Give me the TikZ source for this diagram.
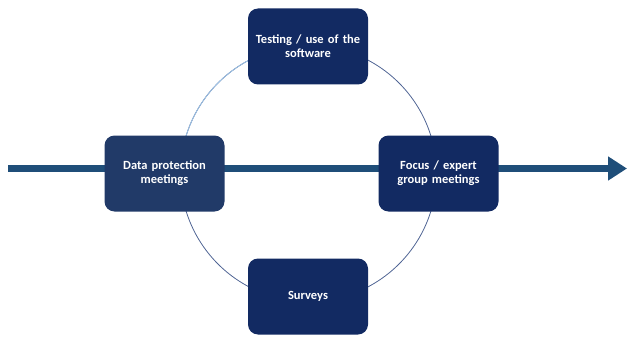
\documentclass[tikz,border=0pt]{standalone}
\usepackage{fontspec}
\setmainfont{Carlito}
\usepackage{xcolor}
\usepackage{tikz}
\usetikzlibrary{arrows.meta,backgrounds}

\definecolor{navy}{HTML}{122A62}
\definecolor{navylight}{HTML}{213A68}
\definecolor{flowblue}{HTML}{1F4E79}
\definecolor{ringdark}{HTML}{4F6494}
\definecolor{ringlight}{HTML}{9DC3E6}

\begin{document}
\begin{tikzpicture}[x=1pt,y=1pt]
      \tikzstyle{stage}=[fill=navy, text=white, font=\bfseries\fontsize{12.5}{14}\selectfont, align=center, text width=112pt, inner sep=4pt, minimum height=76pt, rounded corners=10pt]
      \tikzstyle{stage_first}=[stage, fill=navylight]
      \tikzstyle{ring_dark}=[draw=ringdark, line width=0.8pt]
      \tikzstyle{ring_light}=[ring_dark, draw=ringlight]
      \tikzstyle{flow}=[draw=flowblue, line width=6.5pt, -{Triangle[length=19pt,width=23pt]}]

      \useasboundingbox (0,0) rectangle (627,-337);

      \node [stage] (testing) at (308,-46.5) {Testing / use of the\\software};
      \node [stage_first] (dataprot) at (164.5,-173.5) {Data protection\\meetings};
      \node [stage] (focus) at (438.5,-173.5) {Focus / expert\\group meetings};
      \node [stage] (surveys) at (308,-296.5) {Surveys};

      \begin{scope}[on background layer]
        \coordinate (ring) at (308.5,-173.5);
        \draw [ring_dark] (ring) circle [radius=128];
        \draw [ring_light] (ring) ++(180:128) arc [start angle=180, end angle=90, radius=128];

        \coordinate (flow_start) at (8,-168.5);
        \coordinate (flow_end) at (627,-168.5);
        \draw [flow] (flow_start) -- (flow_end);
      \end{scope}
\end{tikzpicture}
\end{document}
